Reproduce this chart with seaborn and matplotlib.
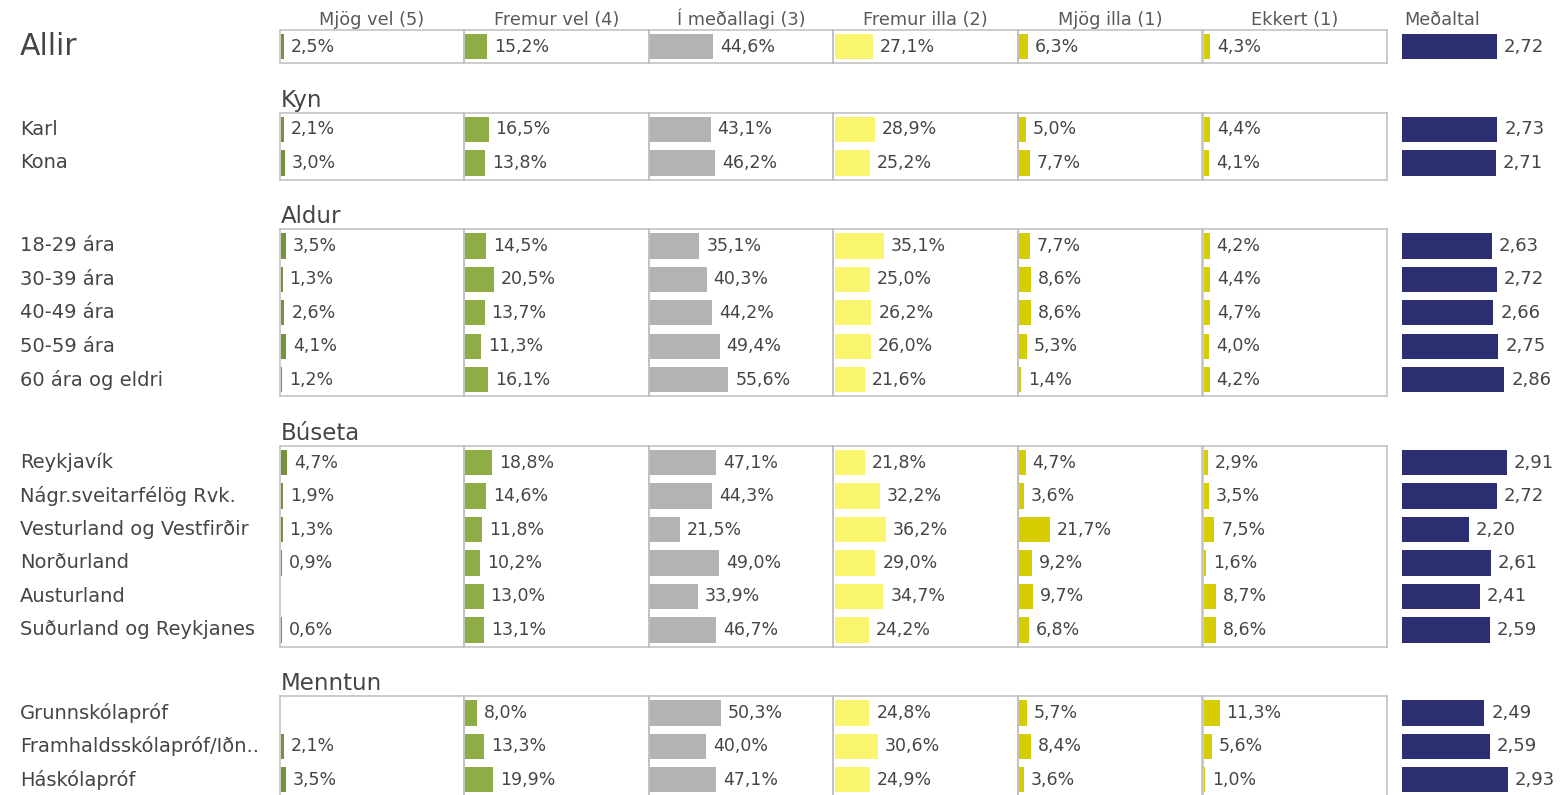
import numpy as np
import pandas as pd
import seaborn as sns
import matplotlib.pyplot as plt
from matplotlib.transforms import blended_transform_factory

# Flokkar og hópar
hopar = ['Allir', 'Kyn', 'Aldur', 'Búseta', 'Menntun']
flokkar = [
    ['Allir'],
    ['Karl', 'Kona'],
    ['18-29 ára', '30-39 ára', '40-49 ára', '50-59 ára', '60 ára og eldri'],
    ['Reykjavík', 'Nágr.sveitarfélög Rvk.', 'Vesturland og Vestfirðir',
     'Norðurland', 'Austurland', 'Suðurland og Reykjanes'],
    ['Grunnskólapróf', 'Framhaldsskólapróf/Iðn..', 'Háskólapróf'],
]
dalkar = ['Mjög vel (5)', 'Fremur vel (4)', 'Í meðallagi (3)',
          'Fremur illa (2)', 'Mjög illa (1)', 'Ekkert (1)']

# Gildi (%) í sömu röð og flokkarnir
mjog_vel = [2.5, 2.1, 3.0, 3.5, 1.3, 2.6, 4.1, 1.2,
            4.7, 1.9, 1.3, 0.9, np.nan, 0.6, np.nan, 2.1, 3.5]
fremur_vel = [15.2, 16.5, 13.8, 14.5, 20.5, 13.7, 11.3, 16.1,
              18.8, 14.6, 11.8, 10.2, 13.0, 13.1, 8.0, 13.3, 19.9]
medallagi = [44.6, 43.1, 46.2, 35.1, 40.3, 44.2, 49.4, 55.6,
             47.1, 44.3, 21.5, 49.0, 33.9, 46.7, 50.3, 40.0, 47.1]
fremur_illa = [27.1, 28.9, 25.2, 35.1, 25.0, 26.2, 26.0, 21.6,
               21.8, 32.2, 36.2, 29.0, 34.7, 24.2, 24.8, 30.6, 24.9]
mjog_illa = [6.3, 5.0, 7.7, 7.7, 8.6, 8.6, 5.3, 1.4,
             4.7, 3.6, 21.7, 9.2, 9.7, 6.8, 5.7, 8.4, 3.6]
ekkert = [4.3, 4.4, 4.1, 4.2, 4.4, 4.7, 4.0, 4.2,
          2.9, 3.5, 7.5, 1.6, 8.7, 8.6, 11.3, 5.6, 1.0]
medaltal = [2.72, 2.73, 2.71, 2.63, 2.72, 2.66, 2.75, 2.86,
            2.91, 2.72, 2.20, 2.61, 2.41, 2.59, 2.49, 2.59, 2.93]

df = pd.DataFrame({
    'hópur': [h for h, f in zip(hopar, flokkar) for _ in f],
    'flokkur': [x for f in flokkar for x in f],
    'Mjög vel (5)': mjog_vel,
    'Fremur vel (4)': fremur_vel,
    'Í meðallagi (3)': medallagi,
    'Fremur illa (2)': fremur_illa,
    'Mjög illa (1)': mjog_illa,
    'Ekkert (1)': ekkert,
    'Meðaltal': medaltal,
})

litir = ['#76923C', '#8EAD45', '#B3B3B3', '#FAF56E', '#D5CD00', '#D5CD00', '#2B2E70']
texti = '#454545'

sns.set_style('white')
plt.rcParams['font.family'] = ['DejaVu Sans']

W, H = 1560, 795
ROW, GAP, TOP0 = 33.45, 49.5, 29.8
COL_LEFT, COL_W = 279.5, 184.6
PCT_PX = 1.41
MEAN_LEFT, MEAN_PX, MEAN_MIN = 1402, 53.5, 0.95

fig = plt.figure(figsize=(W / 100, H / 100), dpi=100)

# Dálkafyrirsagnir
for ci, d in enumerate(dalkar):
    fig.text((COL_LEFT + (ci + 0.5) * COL_W) / W, 1 - 25 / H, d,
             ha='center', va='baseline', fontsize=12.8, color='#595959')
fig.text((MEAN_LEFT + 2) / W, 1 - 25 / H, 'Meðaltal',
         ha='left', va='baseline', fontsize=12.8, color='#595959')

top = TOP0
for hopur, nofn in zip(hopar, flokkar):
    n = len(nofn)
    h = n * ROW
    sub = df[df['hópur'] == hopur]
    allir = hopur == 'Allir'
    if not allir:
        fig.text(281 / W, 1 - (top - 6) / H, hopur, ha='left', va='baseline',
                 fontsize=16.5, color=texti)

    for ci, col in enumerate(dalkar + ['Meðaltal']):
        if ci < 6:
            left, w = COL_LEFT + ci * COL_W, COL_W
        else:
            left, w = MEAN_LEFT, W - MEAN_LEFT
        ax = fig.add_axes([left / W, 1 - (top + h) / H, w / W, h / H])
        teikn = sub.assign(**{col: sub[col].fillna(0)})
        sns.barplot(data=teikn, x=col, y='flokkur', order=nofn, orient='h',
                    color=litir[ci], saturation=1, width=0.76, linewidth=0,
                    errorbar=None, ax=ax, zorder=3)
        ax.set_ylim(n - 0.5, -0.5)
        if ci < 6:
            # súlur byrja rétt innan við rammann
            ax.set_xlim(-1.2 / PCT_PX, (w - 1.2) / PCT_PX)
            merki = ['' if np.isnan(v) else f'{v:.1f}'.replace('.', ',') + '%'
                     for v in sub[col]]
            for s in ax.spines.values():
                s.set_color('#BFBFBF')
                s.set_linewidth(1.1)
                s.set_zorder(2)
            fs = 12.5
        else:
            ax.set_xlim(MEAN_MIN, MEAN_MIN + w / MEAN_PX)
            merki = [f'{v:.2f}'.replace('.', ',') for v in sub[col]]
            for s in ax.spines.values():
                s.set_visible(False)
            fs = 13
        ax.bar_label(ax.containers[0], labels=merki, padding=5,
                     fontsize=fs, color=texti)
        ax.set_xticks([])
        ax.set_yticks([])
        ax.set_xlabel('')
        ax.set_ylabel('')
        ax.patch.set_alpha(0)

        if ci == 0:
            tr = blended_transform_factory(fig.transFigure, ax.transData)
            for i, nafn in enumerate(nofn):
                ax.text(20 / W, i, nafn, transform=tr, ha='left', va='center',
                        fontsize=21.5 if allir else 14, color=texti)

    top += h + GAP

fig.savefig('out.png', dpi=100)
